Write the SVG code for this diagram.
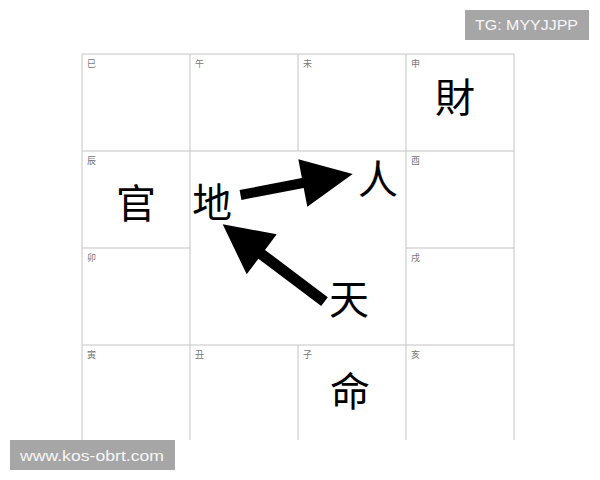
<svg xmlns="http://www.w3.org/2000/svg" width="600" height="480" viewBox="0 0 600 480">
<style>
.grid{stroke:#c4c4c4;stroke-width:1;fill:none}
.lbl{font-family:"Noto Sans CJK TC","Noto Sans CJK SC",sans-serif;font-size:9px;fill:#777}
.big{font-family:"Noto Sans CJK TC","Noto Sans CJK SC",sans-serif;font-size:40px;fill:#000;text-anchor:middle}
.arrow{fill:#000}
.wm{fill:#a6a6a6}
.wmt{font-family:"Liberation Sans",Arial,sans-serif;font-size:15px;fill:#f7f7f7}
</style>
<rect width="600" height="480" fill="#fff"/>
<g id="grid" class="grid">
<line x1="82" y1="54" x2="514" y2="54"/>
<line x1="82" y1="151" x2="514" y2="151"/>
<line x1="82" y1="248" x2="190" y2="248"/>
<line x1="406" y1="248" x2="514" y2="248"/>
<line x1="82" y1="345" x2="514" y2="345"/>
<line x1="82" y1="54" x2="82" y2="440"/>
<line x1="190" y1="54" x2="190" y2="440"/>
<line x1="298" y1="54" x2="298" y2="151"/>
<line x1="298" y1="345" x2="298" y2="440"/>
<line x1="406" y1="54" x2="406" y2="440"/>
<line x1="514" y1="54" x2="514" y2="440"/>
</g>
<g id="labels">
<text class="lbl" x="87" y="67">巳</text>
<text class="lbl" x="195" y="67">午</text>
<text class="lbl" x="303" y="67">未</text>
<text class="lbl" x="411" y="67">申</text>
<text class="lbl" x="87" y="164">辰</text>
<text class="lbl" x="411" y="164">酉</text>
<text class="lbl" x="87" y="261">卯</text>
<text class="lbl" x="411" y="261">戌</text>
<text class="lbl" x="87" y="358">寅</text>
<text class="lbl" x="195" y="358">丑</text>
<text class="lbl" x="303" y="358">子</text>
<text class="lbl" x="411" y="358">亥</text>
</g>
<g id="node-cai"><text class="big" x="455" y="112">財</text></g>
<g id="node-guan"><text class="big" x="136" y="218">官</text></g>
<g id="node-di"><text class="big" x="212" y="217">地</text></g>
<g id="node-ren"><text class="big" x="378" y="194">人</text></g>
<g id="node-tian"><text class="big" x="349" y="314">天</text></g>
<g id="node-ming"><text class="big" x="350" y="406">命</text></g>
<g id="connectors" class="arrow">
<polygon points="239.6,190.1 301.9,178.1 298.3,159.3 352.7,174 307.3,206.7 303.7,187.9 241.4,199.9"/>
<polygon points="327.8,297.3 265,249.9 276.7,234.3 222.7,224.3 246.7,274.3 258.4,258.7 321.2,306.1"/>
</g>
<g id="watermark-tg">
<rect class="wm" x="465" y="10" width="124" height="30"/>
<text class="wmt" x="475" y="30" textLength="103" lengthAdjust="spacingAndGlyphs">TG: MYYJJPP</text>
</g>
<g id="watermark-url">
<rect class="wm" x="10" y="440" width="165" height="30"/>
<text class="wmt" x="20" y="461" textLength="144" lengthAdjust="spacingAndGlyphs">www.kos-obrt.com</text>
</g>
</svg>
